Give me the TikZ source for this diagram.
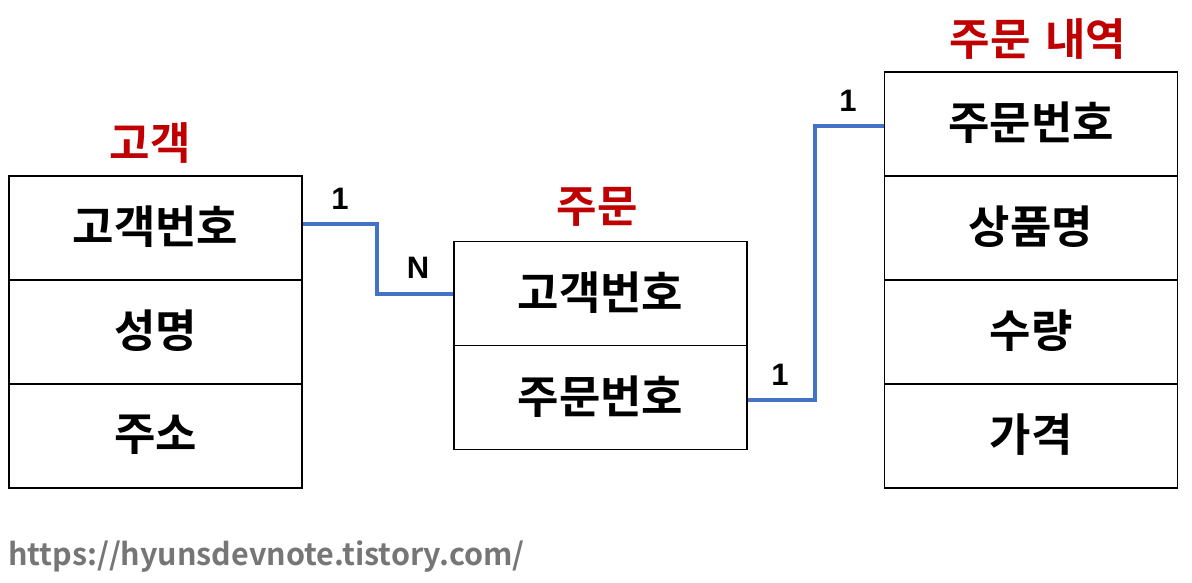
\documentclass[tikz,border=0pt]{standalone}
\usepackage{fontspec}
\newfontfamily\kr{Noto Sans CJK KR}[BoldFont={* Bold}]
\setmainfont{Liberation Sans}
\definecolor{tblue}{HTML}{4472C4}
\definecolor{tred}{HTML}{C00000}
\definecolor{tgray}{HTML}{767676}
\begin{document}
\begin{tikzpicture}[x=1pt,y=-1pt,
  cell/.style={draw=black,line width=1.6pt,minimum width=293pt,minimum height=104pt,inner sep=0pt,font=\kr\bfseries\fontsize{45}{48}\selectfont},
  ttl/.style={text=tred,font=\kr\bfseries\fontsize{44}{48}\selectfont},
  card/.style={font=\bfseries\fontsize{31}{34}\selectfont},
  rel/.style={draw=tblue,line width=3.4pt}]
\useasboundingbox (0,0) rectangle (1192,582);
\fill[white] (0,0) rectangle (1192,582);
% left table
\node[cell] (c1) at (155.5,228) {\raisebox{6pt}{고객번호}};
\node[cell] (c2) at (155.5,332) {\raisebox{6pt}{성명}};
\node[cell] (c3) at (155.5,436) {\raisebox{6pt}{주소}};
\node[ttl] (tc) at (150,143) {고객};
% middle table
\node[cell] (o1) at (600.5,293.5) {\raisebox{6pt}{고객번호}};
\node[cell] (o2) at (600.5,397.5) {\raisebox{6pt}{주문번호}};
\node[ttl] (to) at (597,207) {주문};
% right table
\node[cell] (d1) at (1031,124) {\raisebox{6pt}{주문번호}};
\node[cell] (d2) at (1031,228) {\raisebox{6pt}{상품명}};
\node[cell] (d3) at (1031,332) {\raisebox{6pt}{수량}};
\node[cell] (d4) at (1031,436) {\raisebox{6pt}{가격}};
\node[ttl] (td) at (1038,39) {주문\hspace{0.33em}내역};
% connectors
\coordinate (k1) at (377,224);
\coordinate (k2) at (377,294);
\draw[rel] (c1.east |- k1) -- (k1) -- (k2) -- (o1.west |- k2);
\coordinate (m1) at (815,400);
\coordinate (m2) at (815,126);
\draw[rel] (o2.east |- m1) -- (m1) -- (m2) -- (d1.west |- m2);
\node[card] (l1) at (340,199) {1};
\node[card] (l2) at (418,268) {N};
\node[card] (l3) at (780,375) {1};
\node[card] (l4) at (848,101) {1};
% url
\node[anchor=west,text=tgray,font=\kr\bfseries\fontsize{30.5}{33}\selectfont,inner sep=0pt] (url) at (8,557) {https://hyunsdevnote.tistory.com/};
\end{tikzpicture}
\end{document}
